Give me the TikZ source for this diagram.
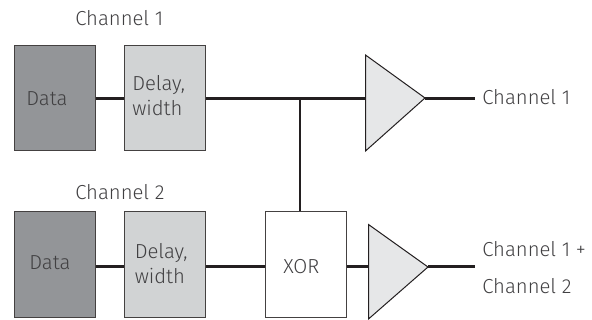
\documentclass[tikz,border=0pt]{standalone}
\usepackage{fontspec}
\setmainfont{Fira Sans Light}
\definecolor{txt}{HTML}{414042}
\definecolor{ln}{HTML}{231F20}
\definecolor{dark}{HTML}{939598}
\definecolor{mid}{HTML}{D1D3D4}
\definecolor{tri}{HTML}{E6E7E8}
\tikzset{
 blockbox/.style={draw=ln!85,line width=0.75pt,minimum width=60.75pt,minimum height=78.75pt,inner sep=0pt},
 wire/.style={draw=ln,line width=1.9pt},
 wirethin/.style={draw=ln,line width=1.5pt},
 amp/.style={draw=ln,fill=tri,line width=0.75pt,line join=miter},
 lab/.style={text=txt,inner sep=0pt,font=\fontsize{15.2}{18.8}\selectfont,anchor=west,align=left}
}
\begin{document}
\begin{tikzpicture}[x=0.75pt,y=-0.75pt]
\useasboundingbox (0,0) rectangle (592,320);
\node[blockbox,fill=dark] (data1) at (54.5,98.5) {};
\node[blockbox,fill=mid] (delay1) at (165,98.5) {};
\node[blockbox,fill=dark] (data2) at (54.5,264.5) {};
\node[blockbox,fill=mid] (delay2) at (165,264.5) {};
\node[blockbox,fill=white] (xor) at (306,264.5) {};
\node[lab] (t1) at (26,98.5) {Data};
\node[lab] (t2) at (29,262.5) {Data};
\node[lab] (t3) at (132,95.5) {Delay,\\width};
\node[lab] (t4) at (134.5,263.5) {Delay,\\width};
\node[lab] (t5) at (283,267) {XOR};
\node[lab] (ch1top) at (75,18) {Channel 1};
\node[lab] (ch2top) at (75,192) {Channel 2};
\coordinate (a1t) at (365.5,55);
\coordinate (a1b) at (365.5,151);
\coordinate (a1tip) at (425,98);
\coordinate (a1in) at (365.5,98.5);
\coordinate (a2t) at (368.5,224.5);
\coordinate (a2b) at (368.5,319);
\coordinate (a2tip) at (428,267);
\coordinate (a2in) at (368.5,266.5);
\coordinate (end1) at (475,98.5);
\coordinate (end2) at (475,266.5);
\coordinate (junc) at (300,98.5);
\draw[wire] (data1.east |- 0,98.5) -- (delay1.west |- 0,98.5);
\draw[wire] (delay1.east |- 0,98.5) -- (a1in);
\draw[wirethin] (junc) -- (junc |- xor.north);
\draw[wire] (data2.east |- 0,266.5) -- (delay2.west |- 0,266.5);
\draw[wire] (delay2.east |- 0,266.5) -- (xor.west |- 0,266.5);
\draw[wire] (xor.east |- 0,266.5) -- (a2in);
\draw[wire] (a1tip |- end1) -- (end1);
\draw[wire] (a2tip |- end2) -- (end2);
\draw[amp] (a1t) -- (a1tip) -- (a1b) -- cycle;
\draw[amp] (a2t) -- (a2tip) -- (a2b) -- cycle;
\node[lab] (out1) at (482,97) {Channel 1};
\node[lab] (out2a) at (482,249) {Channel 1 +};
\node[lab] (out2b) at (482,286) {Channel 2};
\end{tikzpicture}
\end{document}
